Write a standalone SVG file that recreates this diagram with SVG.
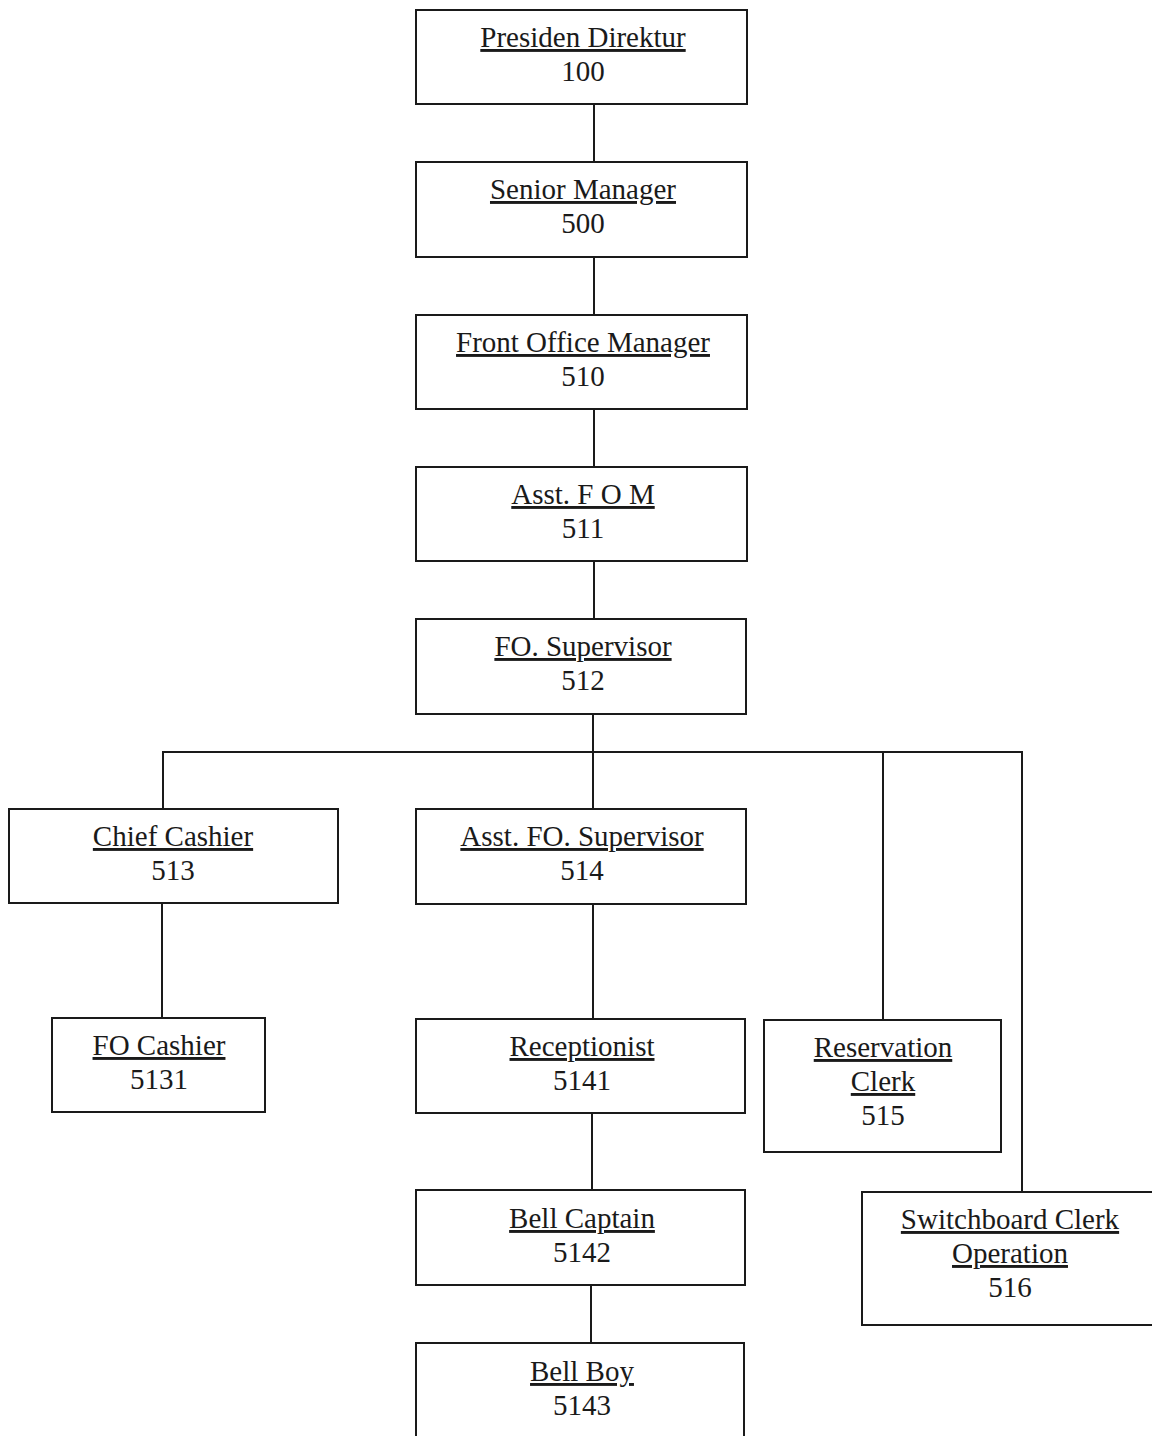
<svg xmlns="http://www.w3.org/2000/svg" width="1152" height="1436" viewBox="0 0 1152 1436">
<style>
.box{fill:#fff;stroke:#1a1a1a;stroke-width:2}
.t{font-family:"Liberation Serif","Times New Roman",serif;font-size:29px;fill:#1a1a1a;text-anchor:middle}
.u{text-decoration:underline}
.c{stroke:#1a1a1a;stroke-width:2;fill:none}
</style>
<rect width="1152" height="1436" fill="#fff"/>
<g id="connectors">
<line class="c" x1="594" y1="104" x2="594" y2="162"/>
<line class="c" x1="594" y1="257" x2="594" y2="315"/>
<line class="c" x1="594" y1="409" x2="594" y2="467"/>
<line class="c" x1="594" y1="561" x2="594" y2="619"/>
<line class="c" x1="593" y1="714" x2="593" y2="809"/>
<polyline class="c" points="163,809 163,752 1022,752 1022,1192"/>
<line class="c" x1="883" y1="752" x2="883" y2="1020"/>
<line class="c" x1="162" y1="903" x2="162" y2="1018"/>
<line class="c" x1="593" y1="904" x2="593" y2="1019"/>
<line class="c" x1="592" y1="1113" x2="592" y2="1190"/>
<line class="c" x1="591" y1="1285" x2="591" y2="1343"/>
</g>
<g id="n100"><rect class="box" x="416" y="10" width="331" height="94"/><text class="t u" x="583" y="47">Presiden Direktur</text><text class="t" x="583" y="81">100</text></g>
<g id="n500"><rect class="box" x="416" y="162" width="331" height="95"/><text class="t u" x="583" y="199">Senior Manager</text><text class="t" x="583" y="233">500</text></g>
<g id="n510"><rect class="box" x="416" y="315" width="331" height="94"/><text class="t u" x="583" y="352">Front Office Manager</text><text class="t" x="583" y="386">510</text></g>
<g id="n511"><rect class="box" x="416" y="467" width="331" height="94"/><text class="t u" x="583" y="504">Asst. F O M</text><text class="t" x="583" y="538">511</text></g>
<g id="n512"><rect class="box" x="416" y="619" width="330" height="95"/><text class="t u" x="583" y="656">FO. Supervisor</text><text class="t" x="583" y="690">512</text></g>
<g id="n513"><rect class="box" x="9" y="809" width="329" height="94"/><text class="t u" x="173" y="846">Chief Cashier</text><text class="t" x="173" y="880">513</text></g>
<g id="n514"><rect class="box" x="416" y="809" width="330" height="95"/><text class="t u" x="582" y="846">Asst. FO. Supervisor</text><text class="t" x="582" y="880">514</text></g>
<g id="n5131"><rect class="box" x="52" y="1018" width="213" height="94"/><text class="t u" x="159" y="1055">FO Cashier</text><text class="t" x="159" y="1089">5131</text></g>
<g id="n5141"><rect class="box" x="416" y="1019" width="329" height="94"/><text class="t u" x="582" y="1056">Receptionist</text><text class="t" x="582" y="1090">5141</text></g>
<g id="n515"><rect class="box" x="764" y="1020" width="237" height="132"/><text class="t u" x="883" y="1057">Reservation</text><text class="t u" x="883" y="1091">Clerk</text><text class="t" x="883" y="1125">515</text></g>
<g id="n5142"><rect class="box" x="416" y="1190" width="329" height="95"/><text class="t u" x="582" y="1228">Bell Captain</text><text class="t" x="582" y="1262">5142</text></g>
<g id="n516"><rect class="box" x="862" y="1192" width="300" height="133"/><text class="t u" x="1010" y="1229">Switchboard Clerk</text><text class="t u" x="1010" y="1263">Operation</text><text class="t" x="1010" y="1297">516</text></g>
<g id="n5143"><rect class="box" x="416" y="1343" width="328" height="100"/><text class="t u" x="582" y="1381">Bell Boy</text><text class="t" x="582" y="1415">5143</text></g>
</svg>
